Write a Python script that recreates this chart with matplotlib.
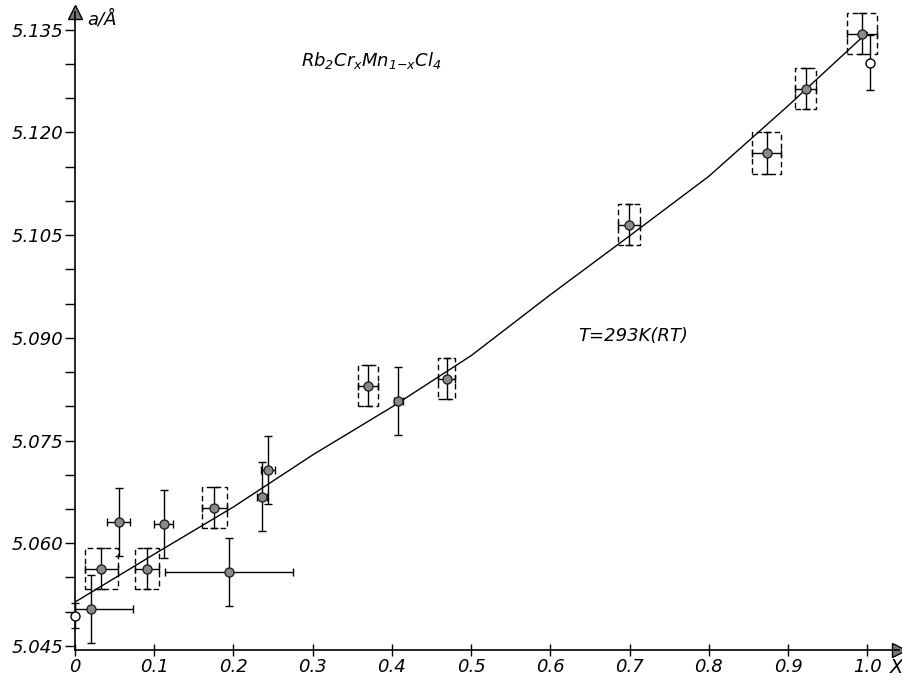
import numpy as np
import matplotlib
matplotlib.use("Agg")
from matplotlib import pyplot as plt
from matplotlib.patches import Rectangle

# boxed points (filled, dashed error box)
x_box = [0.033, 0.091, 0.176, 0.370, 0.469, 0.699, 0.873, 0.922, 0.993]
a_box = [5.0563, 5.0563, 5.0652, 5.0830, 5.0840, 5.1065, 5.1170, 5.1264, 5.1344]
dx_box = [0.021, 0.015, 0.016, 0.013, 0.011, 0.014, 0.018, 0.013, 0.019]
da_box = [0.003, 0.003, 0.003, 0.003, 0.003, 0.003, 0.003, 0.003, 0.003]

# plain filled points
x_pt = [0.020, 0.055, 0.112, 0.194, 0.236, 0.244, 0.408]
a_pt = [5.0504, 5.0631, 5.0628, 5.0558, 5.0668, 5.0707, 5.0808]
dx_pt_lo = [0.020, 0.015, 0.012, 0.081, 0.006, 0.009, 0.006]
dx_pt_hi = [0.053, 0.015, 0.012, 0.081, 0.006, 0.009, 0.006]
da_pt = [0.005, 0.005, 0.005, 0.005, 0.005, 0.005, 0.005]

# open circles
x_open = [0.0, 1.004]
a_open = [5.0494, 5.1302]
da_open = [0.0018, 0.004]

# fitted curve
x_fit = [0.0, 0.1, 0.2, 0.3, 0.4, 0.5, 0.6, 0.7, 0.8, 0.9, 1.0]
a_fit = [5.0514, 5.0584, 5.0653, 5.0729, 5.0799, 5.0874, 5.0963, 5.1049, 5.1136, 5.1239, 5.1346]

y_ticks = [5.045, 5.060, 5.075, 5.090, 5.105, 5.120, 5.135]
y_labels = ["5.045", "5.060", "5.075", "5.090", "5.105", "5.120", "5.135"]
x_ticks = [0, 0.1, 0.2, 0.3, 0.4, 0.5, 0.6, 0.7, 0.8, 0.9, 1.0]
x_labels = ["0", "0.1", "0.2", "0.3", "0.4", "0.5", "0.6", "0.7", "0.8", "0.9", "1.0"]

plt.rcParams["font.family"] = ["DejaVu Sans"]
plt.rcParams["font.style"] = "italic"
plt.rcParams["mathtext.fontset"] = "dejavusans"

fig = plt.figure(figsize=(9.03, 6.84), dpi=100)
ax = fig.add_axes([75 / 903, 1 - 650 / 684, 824 / 903, 638 / 684])
ax.set_xlim(0, 1.04)
ax.set_ylim(5.0444, 5.1376)

ax.plot(x_fit, a_fit, color="black", lw=1.0)

ebkw = dict(fmt="none", ecolor="black", elinewidth=1.0, capsize=3, capthick=1.0)
ax.errorbar(x_box, a_box, xerr=dx_box, yerr=da_box, **ebkw)
ax.errorbar(x_pt, a_pt, xerr=[dx_pt_lo, dx_pt_hi], yerr=da_pt, **ebkw)
ax.errorbar(x_open, a_open, yerr=da_open, clip_on=False, **ebkw)

for x, a, dx, da in zip(x_box, a_box, dx_box, da_box):
    ax.add_patch(Rectangle((x - dx, a - da), 2 * dx, 2 * da, fill=False,
                           edgecolor="black", lw=1.0, linestyle=(0, (4, 2.5))))

ax.plot(x_box + x_pt, a_box + a_pt, "o", ms=6.5, mfc="#8a8a8a", mec="#222222",
        mew=1.0, zorder=5)
ax.plot(x_open, a_open, "o", ms=6.5, mfc="white", mec="black", mew=1.0,
        zorder=5, clip_on=False)

# axes look
for s in ["top", "right"]:
    ax.spines[s].set_visible(False)
ax.spines["left"].set_linewidth(1.2)
ax.spines["bottom"].set_linewidth(1.2)
ax.plot(0, 1, marker="^", ms=10, mfc="#777777", mec="black", transform=ax.transAxes,
        clip_on=False)
ax.plot(1, 0, marker=">", ms=10, mfc="#777777", mec="black", transform=ax.transAxes,
        clip_on=False)

ax.set_yticks(y_ticks)
ax.set_yticklabels(y_labels)
ax.set_yticks(np.arange(5.050, 5.135, 0.005), minor=True)
ax.set_xticks(x_ticks)
ax.set_xticklabels(x_labels)
ax.tick_params(axis="y", which="both", direction="out", length=7, width=1.0,
               labelsize=13, pad=1)
ax.tick_params(axis="x", which="major", direction="inout", length=8, width=1.0,
               labelsize=13, pad=2)

ax.text(0.016, 5.1365, "a/Å", fontsize=13, va="center", ha="left")
ax.text(1.037, -0.027, "X", fontsize=14, va="center", ha="center",
        transform=ax.get_xaxis_transform(), clip_on=False)
ax.text(0.285, 5.1305, r"$Rb_2Cr_xMn_{1\mathit{-}x}Cl_4$", fontsize=13, va="center",
        ha="left")
ax.text(0.635, 5.0902, "T=293K(RT)", fontsize=13, va="center", ha="left")

fig.savefig("out.png", dpi=100)
